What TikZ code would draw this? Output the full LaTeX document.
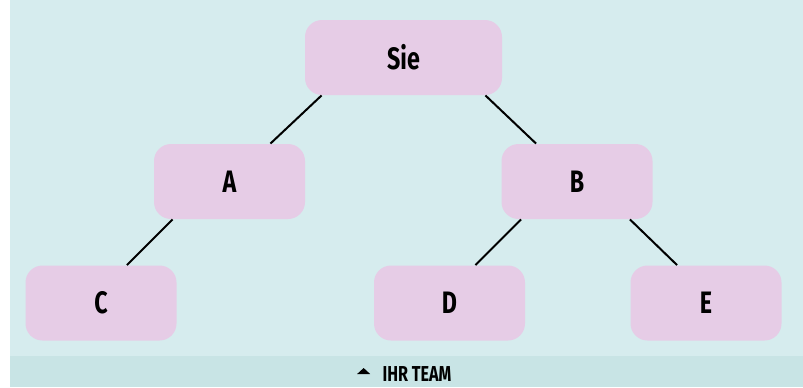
\documentclass[tikz,border=0pt]{standalone}
\usepackage{fontspec}
\setmainfont{Fira Sans}[FakeStretch=0.75]

\definecolor{paneteal}{RGB}{214,236,238}
\definecolor{bandteal}{RGB}{200,228,229}
\definecolor{boxpink}{RGB}{230,204,230}

\begin{document}
\begin{tikzpicture}[x=0.5pt,y=-0.5pt,
    person/.style={fill=boxpink,rounded corners=8.5pt,minimum width=75.5pt,
      minimum height=37.5pt,font=\fontsize{15.5}{18}\selectfont\bfseries},
    link/.style={line width=1pt}]
    \useasboundingbox (0,0) rectangle (803,387);
    \fill[paneteal] (10,0) rectangle (803,356);
    \fill[bandteal] (10,356) rectangle (803,387);

    \node[person,minimum width=98.5pt] (sie) at (403.5,57.5) {Sie};
    \node[person] (a) at (229.5,181.5) {A};
    \node[person] (b) at (577,181.5) {B};
    \node[person] (c) at (101,303) {C};
    \node[person] (d) at (449.5,303) {D};
    \node[person] (e) at (706,303) {E};

    \draw[link] ([xshift=8.5pt]sie.south west) -- ([xshift=-17.5pt]a.north east);
    \draw[link] ([xshift=-8.5pt]sie.south east) -- ([xshift=17.5pt]b.north west);
    \draw[link] ([xshift=9.5pt]a.south west) -- ([xshift=-25pt]c.north east);
    \draw[link] ([xshift=10pt]b.south west) -- ([xshift=-25pt]d.north east);
    \draw[link] ([xshift=-11.5pt]b.south east) -- ([xshift=23.5pt]e.north west);

    \node[inner sep=0pt,font=\fontsize{10.8}{12}\selectfont\bfseries] (team) at (417,374.5) {IHR TEAM};
    \fill (team.west) ++(-25,-0.5) -- ++(13,0) -- ++(-6.5,-6) -- cycle;
\end{tikzpicture}
\end{document}
